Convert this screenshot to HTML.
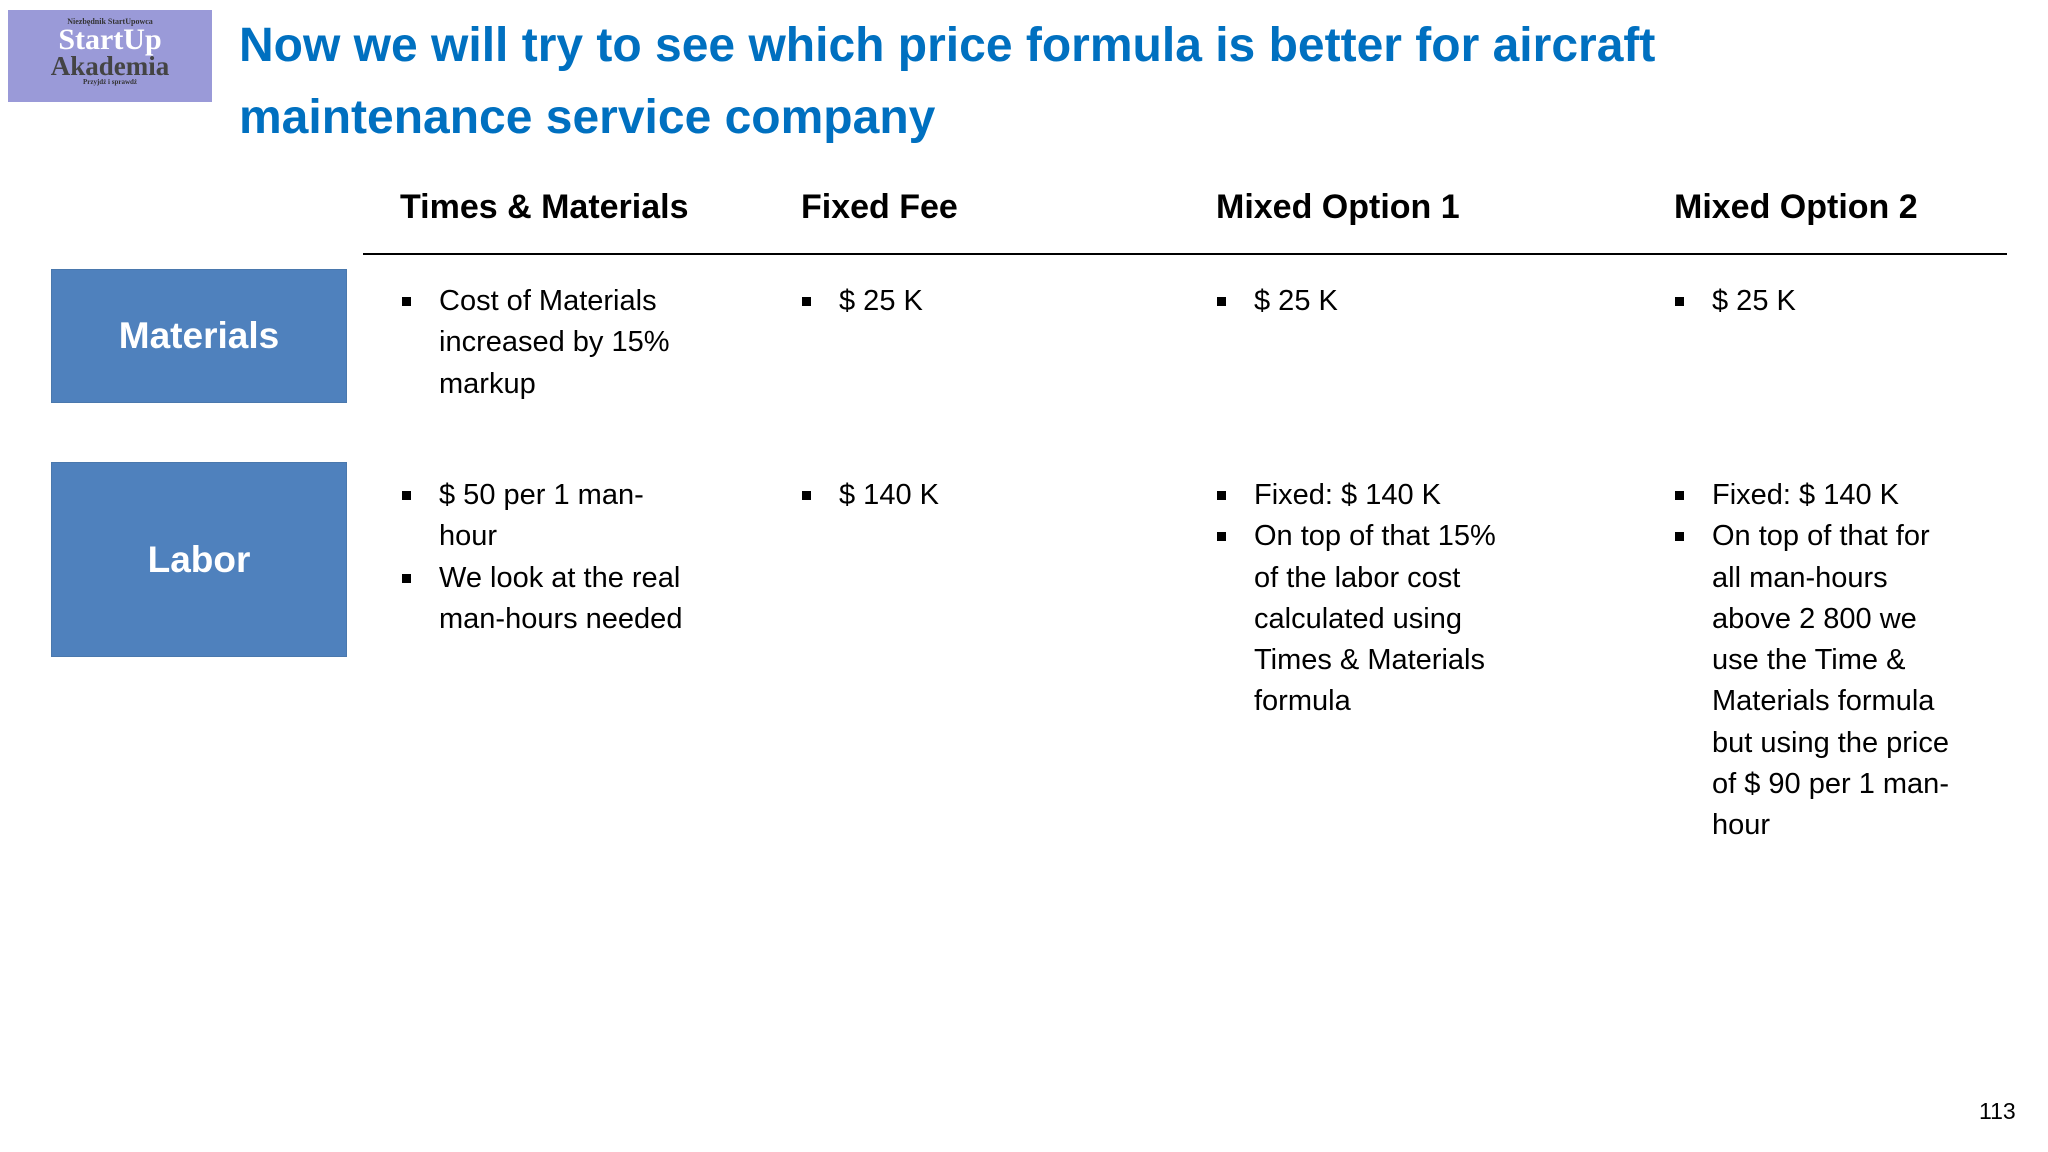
<!DOCTYPE html>
<html><head><meta charset="utf-8"><style>
body{margin:0;width:2048px;height:1152px;background:#fff;position:relative;overflow:hidden;font-family:"Liberation Sans",sans-serif;}
.abs{position:absolute;}
.title{left:239px;top:10px;color:#0070C0;font-weight:bold;font-size:48px;line-height:72px;white-space:nowrap;}
.hdr{top:190px;font-size:34px;font-weight:bold;line-height:35px;white-space:nowrap;color:#000;}
.box{background:#4F81BD;color:#fff;font-weight:bold;font-size:37px;display:flex;align-items:center;justify-content:center;border:1px solid #4a78ad;}
.cell{font-size:29px;line-height:41.3px;color:#000;white-space:nowrap;}
.cell ul{margin:0;padding:0;list-style:none;}
.cell li{position:relative;padding-left:37px;}
.cell li:before{content:"";position:absolute;left:0;top:16px;width:9px;height:9px;background:#000;}
</style></head><body>
<div class="abs" style="left:8px;top:10px;width:204px;height:92px;background:#9a9ad8;text-align:center;font-family:'Liberation Serif',serif;">
<div style="font-size:8px;color:#333;margin-top:7px;font-weight:bold;">Niezbędnik StartUpowca</div>
<div style="font-size:30px;color:#fff;font-weight:bold;line-height:28px;">StartUp</div>
<div style="font-size:27px;color:#444;font-weight:bold;line-height:24px;">Akademia</div>
<div style="font-size:7px;color:#333;font-weight:bold;">Przyjdź i sprawdź</div>
</div>
<div class="abs title">Now we will try to see which price formula is better for aircraft<br>maintenance service company</div>
<div class="abs hdr" style="left:400px">Times &amp; Materials</div>
<div class="abs hdr" style="left:801px">Fixed Fee</div>
<div class="abs hdr" style="left:1216px">Mixed Option 1</div>
<div class="abs hdr" style="left:1674px">Mixed Option 2</div>
<div class="abs" style="left:363px;top:253px;width:1644px;height:2px;background:#000;"></div>
<div class="abs box" style="left:51px;top:269px;width:294px;height:132px;">Materials</div>
<div class="abs box" style="left:51px;top:462px;width:294px;height:193px;">Labor</div>

<div class="abs cell" style="left:402px;top:281px"><ul><li>Cost of Materials<br>increased by 15%<br>markup</li></ul></div>
<div class="abs cell" style="left:802px;top:281px"><ul><li>$ 25 K</li></ul></div>
<div class="abs cell" style="left:1217px;top:281px"><ul><li>$ 25 K</li></ul></div>
<div class="abs cell" style="left:1675px;top:281px"><ul><li>$ 25 K</li></ul></div>

<div class="abs cell" style="left:402px;top:475px"><ul><li>$ 50 per 1 man-<br>hour</li><li>We look at the real<br>man-hours needed</li></ul></div>
<div class="abs cell" style="left:802px;top:475px"><ul><li>$ 140 K</li></ul></div>
<div class="abs cell" style="left:1217px;top:475px"><ul><li>Fixed: $ 140 K</li><li>On top of that 15%<br>of the labor cost<br>calculated using<br>Times &amp; Materials<br>formula</li></ul></div>
<div class="abs cell" style="left:1675px;top:475px"><ul><li>Fixed: $ 140 K</li><li>On top of that for<br>all man-hours<br>above 2 800 we<br>use the Time &amp;<br>Materials formula<br>but using the price<br>of $ 90 per 1 man-<br>hour</li></ul></div>

<div class="abs" style="left:1979px;top:1098px;font-size:23px;color:#000;">113</div>
</body></html>
